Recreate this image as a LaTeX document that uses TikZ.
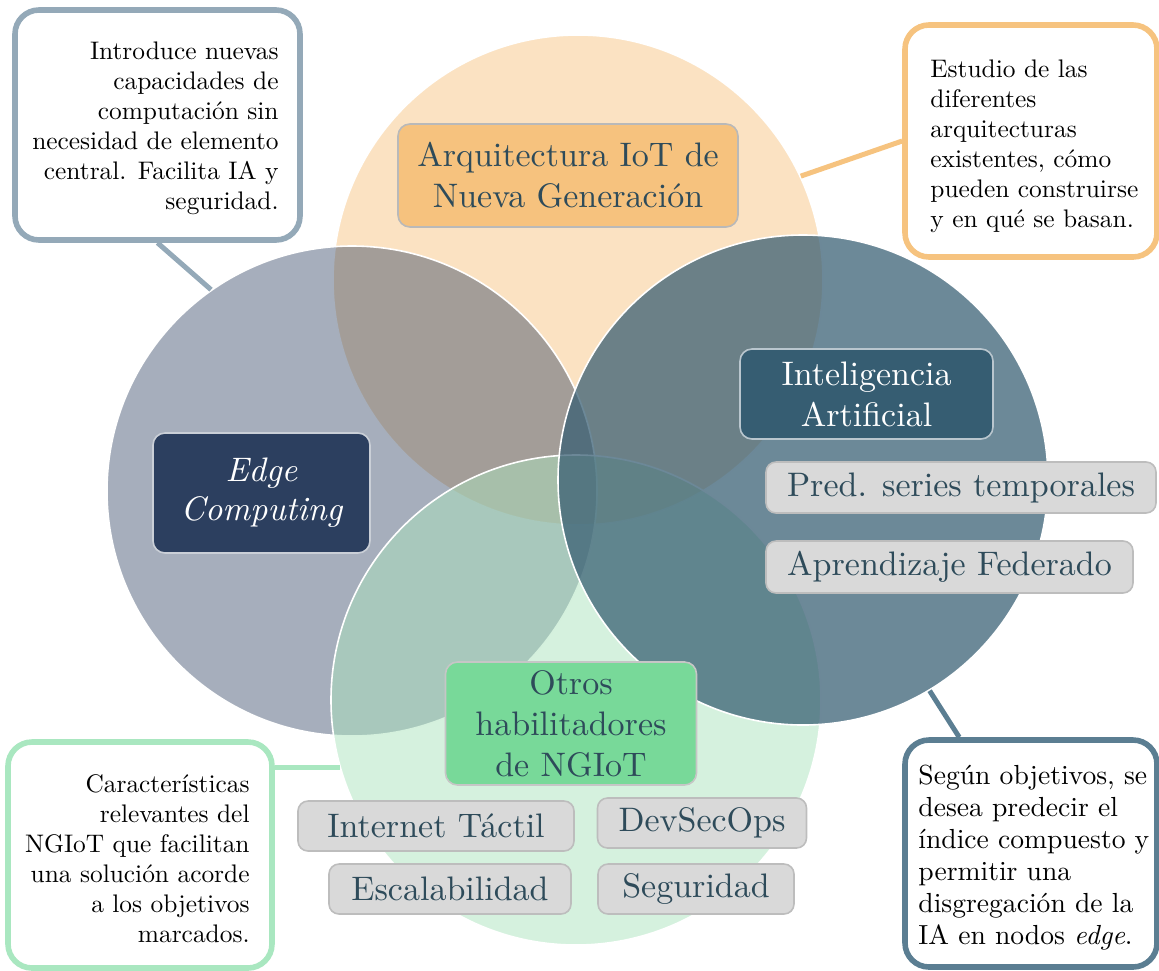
\documentclass[tikz,border=0pt]{standalone}
\usepackage{fontspec}
\usepackage{tikz}
% Latin Modern, 10pt design, used at every size
\setmainfont{lmroman10-regular.otf}[ItalicFont=lmroman10-italic.otf]

% Palette
\definecolor{orangeC}{HTML}{F6C27E}
\definecolor{edgeC}{HTML}{2C3F5F}
\definecolor{aiC}{HTML}{365D72}
\definecolor{greenC}{HTML}{78D999}
\definecolor{greenSet}{HTML}{ABE3BD}
\definecolor{boxtext}{HTML}{2E4B5A}
\definecolor{tagfill}{HTML}{D9D9D9}
\definecolor{tagline}{HTML}{BDBDBD}
\definecolor{edgeLine}{HTML}{94A9B8}
\definecolor{orangeLine}{HTML}{F6C37F}
\definecolor{greenLine}{HTML}{A9E7C0}
\definecolor{aiLine}{HTML}{5B7E92}

\begin{document}
\begin{tikzpicture}[x=0.5pt, y=-0.5pt,
  setcircle/.style={circle, minimum size=245pt, inner sep=0pt, draw=white, line width=0.8pt},
  titlebox/.style={rounded corners=6pt, draw, line width=0.8pt, align=center, text=boxtext,
                   font=\fontsize{17}{20.5}\selectfont, inner sep=0pt},
  tagbox/.style={rounded corners=5pt, fill=tagfill, draw=tagline, line width=0.8pt, text=boxtext,
                 font=\fontsize{17}{20}\selectfont, minimum height=25pt, inner sep=0pt},
  callout/.style={rounded corners=12pt, draw, line width=2.8pt, fill=white, inner sep=0pt},
  note/.style={font=\fontsize{12.7}{15}\selectfont, inner sep=0pt},
  link/.style={line width=2.5pt}]

\useasboundingbox (0,0) rectangle (1159,970);

% The four overlapping areas
\node[setcircle, fill=orangeC,  fill opacity=0.47] (oc) at (578,280) {};
\node[setcircle, fill=edgeC,    fill opacity=0.42] (ec) at (352,491) {};
\node[setcircle, fill=greenSet, fill opacity=0.50] (gc) at (576,700) {};
\node[setcircle, fill=aiC,      fill opacity=0.73] (ac) at (803,480) {};

% Callout frames
\node[callout, draw=edgeLine,   minimum width=142.5pt, minimum height=115pt]   (n1) at (157.5,125) {};
\node[callout, draw=orangeLine, minimum width=126pt,   minimum height=116pt]   (n2) at (1031,141) {};
\node[callout, draw=greenLine,  minimum width=132pt,   minimum height=113pt]   (n3) at (140,855) {};
\node[callout, draw=aiLine,     minimum width=126pt,   minimum height=113.5pt] (n4) at (1031,853.5) {};

% Callout texts
\node[note, align=right, anchor=east] (n1t) at (279,128)
  {Introduce nuevas\\capacidades de\\computación sin\\necesidad de elemento\\central. Facilita IA y\\seguridad.};
\node[note, align=left, anchor=west] (n2t) at (930,146)
  {Estudio de las\\diferentes\\arquitecturas\\existentes, cómo\\pueden construirse\\y en qué se basan.};
\node[note, align=right, anchor=east] (n3t) at (250,859)
  {Características\\relevantes del\\NGIoT que facilitan\\una solución acorde\\a los objetivos\\marcados.};
\node[note, font=\fontsize{13.8}{16}\selectfont, align=left, anchor=west] (n4t) at (918,858)
  {Según objetivos, se\\desea predecir el\\índice compuesto y\\permitir una\\disgregación de la\\IA en nodos \textit{edge}.};

% Connectors from callouts to their areas
\draw[link, edgeLine]   (n1.south) -- (ec.125);
\draw[link, orangeLine] (n2.west) -- (oc.25.7);
\draw[link, greenLine]  (n3.east |- gc.196) -- (gc.196);
\draw[link, aiLine]     ([xshift=28.5pt]n4.north west) -- (ac.301.4);

% Area titles
\node[titlebox, fill=orangeC, draw=gray!55, minimum width=170pt, minimum height=51.5pt] (arq) at (568,175.5)
  {Arquitectura IoT de\\Nueva Generación};
\node[titlebox, fill=edgeC, draw=white!75!edgeC, text=white, minimum width=108.5pt, minimum height=60pt,
      font=\fontsize{17}{19.5}\selectfont\itshape] (edge) at (261.5,493) {Edge\\Computing};
\node[titlebox, fill=aiC, draw=white!65!aiC, text=white, minimum width=126.5pt, minimum height=45pt] (ia) at (866.5,394)
  {Inteligencia\\Artificial};
\node[titlebox, fill=greenC, draw=gray!45, minimum width=125.5pt, minimum height=61.5pt] (otros) at (571,723.5)
  {Otros\\habilitadores\\de NGIoT};

% Topics
\node[tagbox, minimum width=195pt,   minimum height=25.5pt] (t1) at (961,487.5) {Pred. series temporales};
\node[tagbox, minimum width=183.5pt, minimum height=26pt]   (t2) at (949.5,567) {Aprendizaje Federado};
\node[tagbox, minimum width=138pt]   (t3) at (436,826)   {Internet Táctil};
\node[tagbox, minimum width=104.5pt] (t4) at (702,823)   {DevSecOps};
\node[tagbox, minimum width=121pt]   (t5) at (450,889)   {Escalabilidad};
\node[tagbox, minimum width=98pt]    (t6) at (696,889)   {Seguridad};

\end{tikzpicture}
\end{document}
